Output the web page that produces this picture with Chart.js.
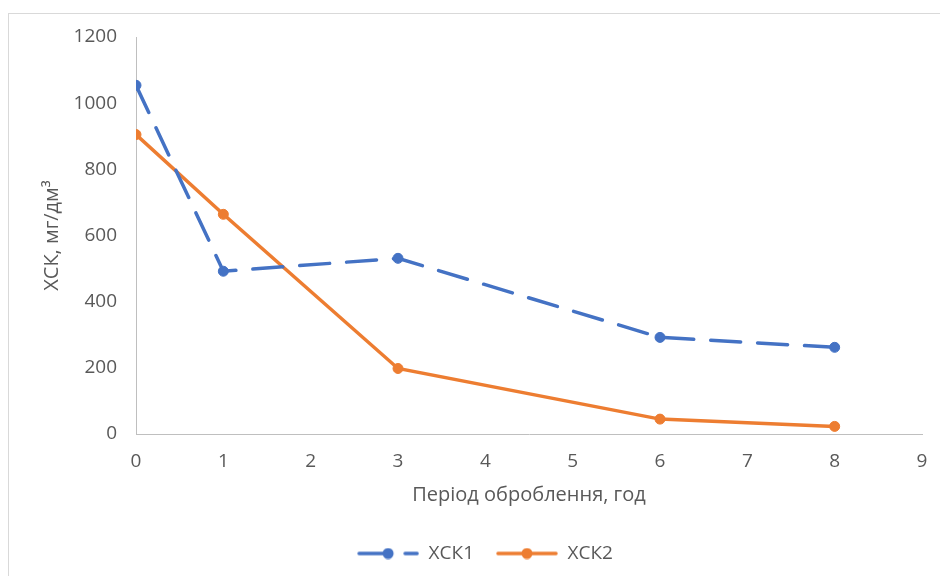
<!DOCTYPE html>
<html lang="uk">
<head>
<meta charset="utf-8">
<title>ХСК</title>
<script src="https://cdn.jsdelivr.net/npm/chart.js@4/dist/chart.umd.min.js"></script>
<style>
  html, body { margin: 0; padding: 0; background: #fff; }
  #wrap { position: relative; width: 940px; height: 576px; }
  #frame {
    position: absolute; left: 8px; top: 13px; width: 940px; height: 576px;
    border-left: 1px solid #d9d9d9; border-top: 1px solid #d9d9d9;
    pointer-events: none;
  }
</style>
</head>
<body>
<div id="wrap">
  <canvas id="chart" width="940" height="576"></canvas>
  <div id="frame"></div>
</div>
<script>
// processing time, h
const hours = [0, 1, 3, 6, 8];
// ХСК, mg/dm3
const xsk1 = [1054, 492, 531, 292, 262];
const xsk2 = [905, 664, 198, 45, 23];
const seriesNames = ['ХСК1', 'ХСК2'];

const BLUE = '#4472C4';
const ORANGE = '#ED7D31';
const TEXT = '#595959';
const FONT = '"Open Sans", "DejaVu Sans", sans-serif';

// small line+dot picture used as legend marker
function legendMarker(color, dashed) {
  const c = document.createElement('canvas');
  c.width = 74; c.height = 12;
  const g = c.getContext('2d');
  g.strokeStyle = color;
  g.fillStyle = color;
  g.lineWidth = 3.5;
  g.lineCap = 'round';
  if (dashed) g.setLineDash([31, 15]);
  g.beginPath();
  g.moveTo(14, 6);
  g.lineTo(72, 6);
  g.stroke();
  g.beginPath();
  g.arc(43, 6, 5.5, 0, Math.PI * 2);
  g.fill();
  return c;
}
const markers = [legendMarker(BLUE, true), legendMarker(ORANGE, false)];

const toPoints = (ys) => hours.map((h, i) => ({ x: h, y: ys[i] }));

new Chart(document.getElementById('chart'), {
  type: 'line',
  data: {
    datasets: [{
      label: seriesNames[0],
      data: toPoints(xsk1),
      borderColor: BLUE,
      backgroundColor: BLUE,
      borderWidth: 3.5,
      borderDash: [30, 17],
      borderCapStyle: 'round',
      pointRadius: 5,
      pointBorderWidth: 1,
      pointBackgroundColor: BLUE,
      tension: 0
    }, {
      label: seriesNames[1],
      data: toPoints(xsk2),
      borderColor: ORANGE,
      backgroundColor: ORANGE,
      borderWidth: 3.5,
      borderCapStyle: 'round',
      pointRadius: 5,
      pointBorderWidth: 1,
      pointBackgroundColor: ORANGE,
      tension: 0
    }]
  },
  options: {
    responsive: false,
    animation: false,
    layout: { padding: { left: 36, right: 18, top: 37, bottom: 3 } },
    plugins: {
      tooltip: { enabled: false },
      legend: {
        position: 'bottom',
        labels: {
          color: TEXT,
          font: { family: FONT, size: 19 },
          padding: 10,
          usePointStyle: true,
          pointStyleWidth: 74,
          generateLabels(chart) {
            const items = Chart.defaults.plugins.legend.labels.generateLabels(chart);
            items.forEach((it, i) => { it.pointStyle = markers[i]; });
            return items;
          }
        }
      }
    },
    scales: {
      x: {
        type: 'linear',
        min: 0,
        max: 9,
        ticks: { stepSize: 1, color: TEXT, font: { family: FONT, size: 19 }, padding: 16 },
        grid: { display: false, drawTicks: false },
        border: { display: true, color: '#bfbfbf', width: 1 },
        title: {
          display: true,
          text: 'Період оброблення, год',
          color: TEXT,
          font: { family: FONT, size: 20 },
          padding: { top: 0, bottom: 27 }
        },
        afterFit(scale) {
          scale.height = 100;
          scale.paddingLeft = 0;
          scale.paddingRight = 0;
        }
      },
      y: {
        min: 0,
        max: 1200,
        ticks: {
          stepSize: 200,
          color: TEXT,
          font: { family: FONT, size: 19 },
          padding: 19,
          callback: (v) => String(v)
        },
        grid: { display: false, drawTicks: false },
        border: { display: true, color: '#bfbfbf', width: 1 },
        title: {
          display: true,
          text: 'ХСК, мг/дм³',
          color: TEXT,
          font: { family: FONT, size: 20 },
          padding: { top: 4, bottom: 0 }
        },
        afterFit(scale) { scale.width = 100; }
      }
    }
  }
});
</script>
</body>
</html>
